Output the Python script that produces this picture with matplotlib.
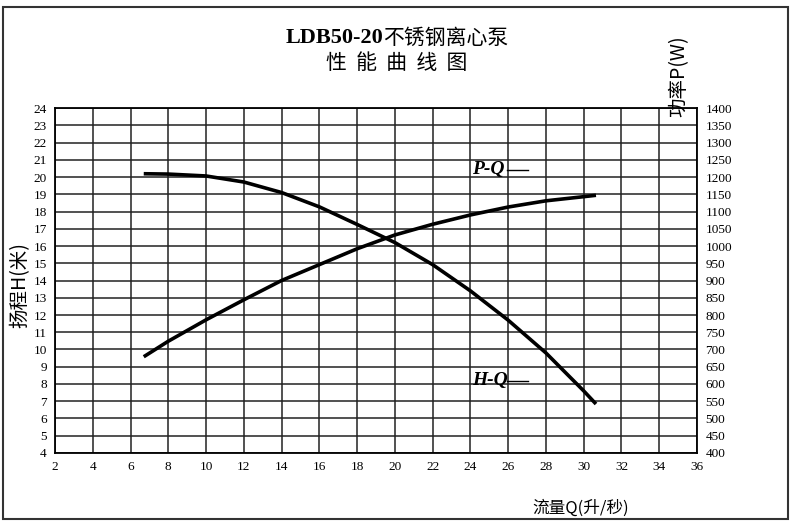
import numpy as np
import matplotlib
matplotlib.use("Agg")
import matplotlib.pyplot as plt
from matplotlib.patches import Rectangle

plt.rcParams['font.family'] = ['Liberation Serif', 'Noto Sans CJK SC', 'DejaVu Sans']

# flow Q (L/s) and readings from the curves
q = [6.7, 8, 10, 12, 14, 16, 18, 20, 22, 24, 26, 28, 30, 30.65]
head = [20.19, 20.17, 20.06, 19.71, 19.1, 18.27, 17.25, 16.2, 14.92, 13.4, 11.7, 9.8, 7.6, 6.84]
power = [679, 724, 786, 844, 900, 946, 992, 1032, 1063, 1090, 1113, 1131, 1143, 1147]

x_ticks = list(range(2, 37, 2))
h_ticks = list(range(4, 25))
p_ticks = list(range(400, 1401, 50))

fig = plt.figure(figsize=(8, 5.3), dpi=100)
ax = fig.add_axes([0.06875, 0.1453, 0.8025, 0.6509])

ax.set_xlim(2, 36)
ax.set_ylim(4, 24)
ax.set_xticks(x_ticks)
ax.set_yticks(h_ticks)
ax.grid(True, color='#222222', lw=1.1)
ax.tick_params(length=0, labelsize=9.5, pad=6)
for s in ax.spines.values():
    s.set_linewidth(1.3)
    s.set_color('black')

ax2 = ax.twinx()
ax2.set_ylim(400, 1400)
ax2.set_yticks(p_ticks)
ax2.tick_params(length=0, labelsize=9.5, pad=6)
for s in ax2.spines.values():
    s.set_visible(False)

ax.plot(q, head, color='black', lw=2.6, solid_joinstyle='round', solid_capstyle='butt', zorder=5)
ax2.plot(q, power, color='black', lw=2.6, solid_joinstyle='round', solid_capstyle='butt', zorder=5)

# curve names with their short leader dash
ax.text(24.1, 20.45, 'P-Q', fontsize=14, fontweight='bold', fontstyle='italic',
        va='center', ha='left', zorder=6)
ax.plot([25.95, 27.05], [20.4, 20.4], color='black', lw=1)
ax.text(24.1, 8.23, 'H-Q', fontsize=14, fontweight='bold', fontstyle='italic',
        va='center', ha='left', zorder=6)
ax.plot([25.95, 27.05], [8.18, 8.18], color='black', lw=1)

fig.text(0.479, 0.928, 'LDB50-20', fontsize=16, fontweight='bold', ha='right', va='center')
fig.text(0.479, 0.928, '不锈钢离心泵', fontsize=15, ha='left', va='center',
         family=['Noto Sans CJK SC'])
fig.text(0.496, 0.881, '性  能  曲  线  图', fontsize=15, ha='center', va='center',
         family=['Noto Sans CJK SC'])

fig.text(0.025, 0.462, '扬程H(米)', fontsize=14, rotation=90, ha='center', va='center',
         family=['Noto Sans CJK SC'])
fig.text(0.848, 0.857, '功率P(W)', fontsize=14, rotation=90, ha='center', va='center',
         family=['Noto Sans CJK SC'])
fig.text(0.726, 0.042, '流量Q(升/秒)', fontsize=12, ha='center', va='center',
         family=['Noto Sans CJK SC'])

fig.patches.append(Rectangle((0.004, 0.02), 0.981, 0.966, transform=fig.transFigure,
                             fill=False, edgecolor='#333333', lw=1.5))

fig.savefig('out.png', dpi=100)
